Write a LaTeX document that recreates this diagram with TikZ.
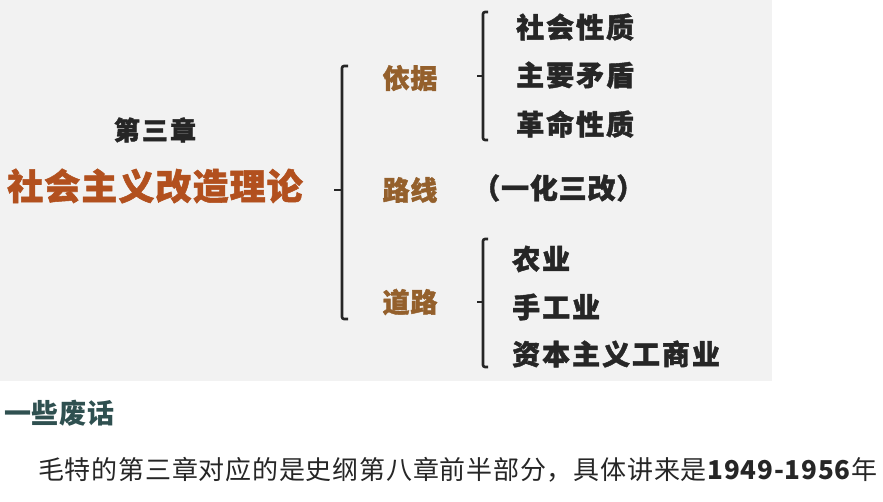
\documentclass[tikz,border=0pt]{standalone}
\usepackage{fontspec}
\usepackage{tikz}

\newfontfamily\cjk{Noto Sans CJK SC}[LetterSpace=3]
\newfontfamily\cjkheavy{Noto Sans CJK SC}[LetterSpace=3, BoldFeatures={FakeBold=1.5}]
\newfontfamily\cjkitem{Noto Sans CJK SC}[LetterSpace=7, BoldFeatures={FakeBold=1.5}]
\newfontfamily\cjkwide{Noto Sans CJK SC}[LetterSpace=8, BoldFeatures={FakeBold=1.5}]

\definecolor{panelgray}{HTML}{F2F2F2}
\definecolor{titlered}{HTML}{B2501E}
\definecolor{keybrown}{HTML}{94602C}
\definecolor{inkdark}{HTML}{262626}
\definecolor{headteal}{HTML}{2F5050}

\tikzset{
    bracketline/.style={line width=2.6pt, draw=inkdark, rounded corners=2pt},
    keytxt/.style={font=\cjkheavy\bfseries\fontsize{27}{32}\selectfont, text=keybrown, inner sep=0pt},
    itemtxt/.style={font=\cjkitem\bfseries\fontsize{28}{32}\selectfont, text=inkdark, inner sep=0pt, anchor=west}
}

\begin{document}
\begin{tikzpicture}[x=1pt, y=-1pt]
    \useasboundingbox (0,0) rectangle (883,502);

    % Slide panel
    \fill[panelgray] (0,0) rectangle (772,381);

    % Chapter title
    \node[font=\cjkwide\bfseries\fontsize{26}{30}\selectfont, text=inkdark, inner sep=0pt] (chap) at (155,130) {第三章};
    \node[font=\cjkheavy\bfseries\fontsize{36}{40}\selectfont, text=titlered, inner sep=0pt] (title) at (155,186) {社会主义改造理论};

    % Define bracket points
    \coordinate (bigtop) at (342,66);
    \coordinate (bigbot) at (342,319);
    \coordinate (topA) at (483,12);
    \coordinate (botA) at (483,140);
    \coordinate (topB) at (483,239);
    \coordinate (botB) at (483,367);

    % Draw the three brackets
    \draw[bracketline] ([xshift=6pt]bigtop) -- (bigtop) -- (bigbot) -- ([xshift=6pt]bigbot);
    \draw[bracketline] (342,190) -- (334,190);
    \draw[bracketline] ([xshift=5pt]topA) -- (topA) -- (botA) -- ([xshift=5pt]botA);
    \draw[bracketline] (483,76) -- (477,76);
    \draw[bracketline] ([xshift=5pt]topB) -- (topB) -- (botB) -- ([xshift=5pt]botB);
    \draw[bracketline] (483,302) -- (477,302);

    % Key words
    \node[keytxt] (basis) at (410,78) {依据};
    \node[keytxt] (route) at (410,190) {路线};
    \node[keytxt] (road) at (410,302) {道路};

    % Items under basis
    \node[itemtxt] (society) at (516,27) {社会性质};
    \node[itemtxt] (conflict) at (516,75) {主要矛盾};
    \node[itemtxt] (revolution) at (516,124) {革命性质};

    % Item of route
    \node[itemtxt, font=\cjkheavy\bfseries\fontsize{28}{32}\selectfont] (onethree) at (472,188) {（一化三改）};

    % Items under road
    \node[itemtxt] (farming) at (512,259) {农业};
    \node[itemtxt] (handcraft) at (512,307) {手工业};
    \node[itemtxt] (commerce) at (512,354) {资本主义工商业};

    % Note below the slide
    \node[font=\cjk\bfseries\fontsize{27}{30}\selectfont, text=headteal, inner sep=0pt, anchor=west] (note) at (4,413) {一些废话};
    \node[font=\cjk\fontsize{26}{30}\selectfont, text=inkdark, inner sep=0pt, anchor=west] (body) at (38,470) {毛特的第三章对应的是史纲第八章前半部分，具体讲来是\textbf{1949-1956}年};
\end{tikzpicture}
\end{document}
